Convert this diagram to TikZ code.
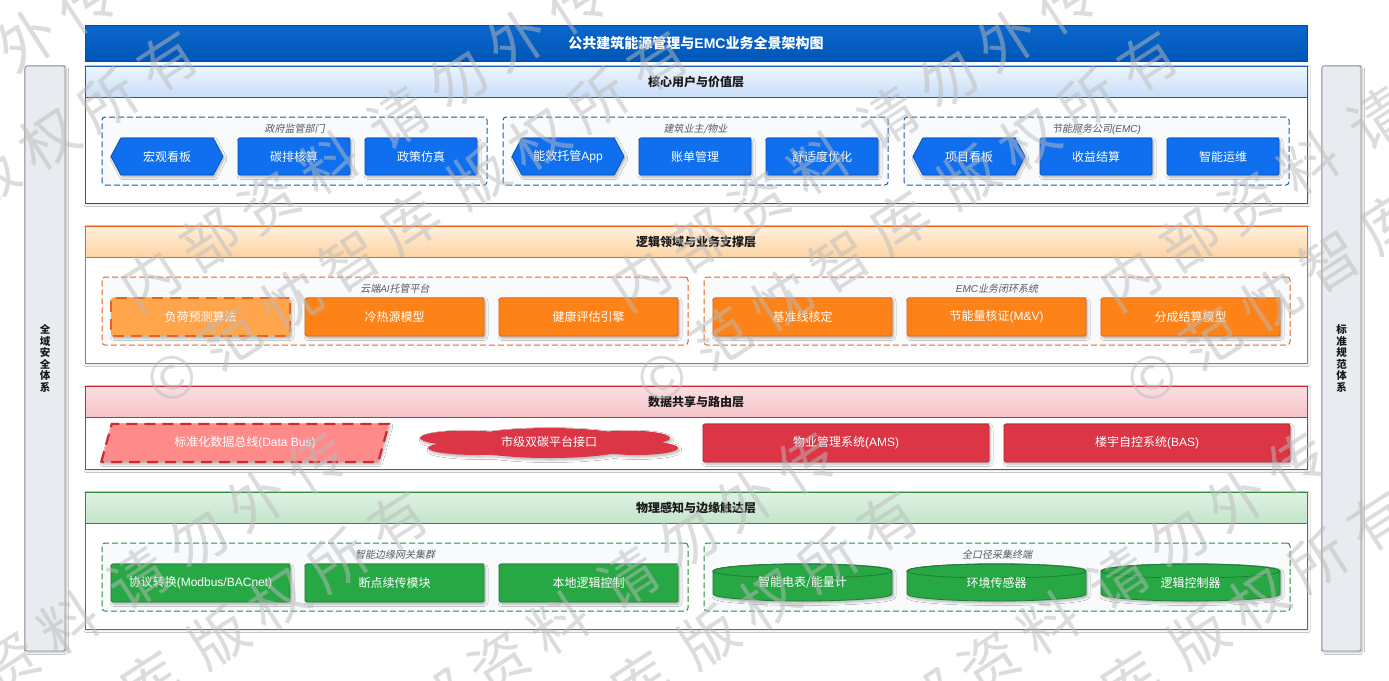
\documentclass[tikz,border=0pt]{standalone}
\usepackage{fontspec}
\setmainfont{Noto Sans CJK SC}
\newfontfamily\latf{Liberation Sans}
\newfontfamily\grpf{Noto Sans CJK SC}[FakeSlant=0.2]
\newfontfamily\wmf{Noto Sans CJK SC}
\usetikzlibrary{shapes.geometric,shapes.symbols,shadows.blur,calc}
\newcommand\lat[1]{{\latf #1}}
\newcommand\lati[1]{{\latf\itshape #1}}
\newcommand\itemfnt{\fontsize{12}{14}\selectfont}
\newcommand\hdrfnt{\fontsize{12}{14}\selectfont\bfseries}
\newcommand\titlefnt{\fontsize{14}{16}\selectfont\bfseries}
\newcommand\grpfnt{\grpf\fontsize{10}{12}\selectfont}
\newcommand\sidefnt{\fontsize{10.5}{11.6}\selectfont\bfseries}
\newcommand\wc[1]{\makebox[71pt]{#1}}
\definecolor{titleTop}{HTML}{0B66CC}
\definecolor{titleBot}{HTML}{0057B8}
\definecolor{titleLine}{HTML}{0A4A9E}
\definecolor{bHdrTop}{HTML}{EEF5FE}
\definecolor{bHdrBot}{HTML}{C9DEF8}
\definecolor{bLine}{HTML}{1A5CB4}
\definecolor{oHdrTop}{HTML}{FFF1DE}
\definecolor{oHdrBot}{HTML}{FDD3A3}
\definecolor{oLine}{HTML}{E8641C}
\definecolor{rHdrTop}{HTML}{FBDFE2}
\definecolor{rHdrBot}{HTML}{F5C3C8}
\definecolor{rLine}{HTML}{CC2A36}
\definecolor{gHdrTop}{HTML}{E0F2E4}
\definecolor{gHdrBot}{HTML}{C3E5CA}
\definecolor{gLine}{HTML}{2E8B40}
\definecolor{ibF}{HTML}{0F6FEF}
\definecolor{ibL}{HTML}{0A52BA}
\definecolor{ioF}{HTML}{FD8319}
\definecolor{ioL}{HTML}{E0620F}
\definecolor{ioLight}{HTML}{FFA54C}
\definecolor{irF}{HTML}{DC3545}
\definecolor{irL}{HTML}{B8232F}
\definecolor{irLight}{HTML}{FF8A8A}
\definecolor{igF}{HTML}{28A745}
\definecolor{igL}{HTML}{1E7E34}
\definecolor{grpFill}{HTML}{F8FAFC}
\definecolor{sideFill}{HTML}{E8EBEF}
\definecolor{sideLine}{HTML}{8C939C}
\definecolor{grpText}{HTML}{555A60}
\definecolor{hdrText}{HTML}{1A1A1A}
\definecolor{wmGray}{HTML}{BBBBBB}
\newcommand\cylshape[3]{%
  \path[cylfill] ({#1-89.5},571) -- ({#1-89.5},594)
     arc[start angle=180,end angle=360,x radius=89.5pt,y radius=7pt]
     -- ({#1+89.5},571)
     arc[start angle=0,end angle=180,x radius=89.5pt,y radius=7pt] -- cycle;
  \draw[cylline] (#1,571) ellipse[x radius=89.5pt,y radius=7pt];
  \node[itemtext] (#2) at (#1,583) {#3};
}
\begin{document}
\begin{tikzpicture}[x=1pt,y=-1pt,
  softshadow/.style={blur shadow={shadow blur steps=6,shadow xshift=1.5pt,shadow yshift=-2pt,shadow blur radius=2.5pt,shadow opacity=30}},
  itembase/.style={inner sep=0pt,outer sep=0pt,text=white,font=\itemfnt,softshadow,line width=0.8pt},
  itemtext/.style={inner sep=0pt,text=white,font=\itemfnt},
  bitem/.style={itembase,rectangle,rounded corners=1.5pt,draw=ibL,fill=ibF,minimum width=112pt,minimum height=37pt},
  bhex/.style={itembase,signal,signal to=west and east,signal pointer angle=124,draw=ibL,fill=ibF,minimum width=112pt,minimum height=37pt},
  oitem/.style={itembase,rectangle,rounded corners=1.5pt,draw=ioL,fill=ioF,minimum width=179pt,minimum height=38pt},
  oitemdash/.style={oitem,fill=ioLight,draw=oLine,line width=2.2pt,dash pattern=on 11pt off 7pt},
  ritem/.style={itembase,rectangle,rounded corners=1.5pt,draw=irL,fill=irF,minimum width=286pt,minimum height=38pt},
  gitem/.style={itembase,rectangle,rounded corners=1.5pt,draw=igL,fill=igF,minimum width=179pt,minimum height=38pt},
  cylfill/.style={fill=igF,draw=igL,line width=0.8pt,softshadow},
  cylline/.style={draw=igL,line width=0.8pt},
  cloudfill/.style={fill=irF,softshadow},
  layerbox/.style={draw=#1,fill=white,line width=1pt,inner sep=0pt,outer sep=0pt,minimum width=1222pt,
     blur shadow={shadow blur steps=5,shadow xshift=1pt,shadow yshift=-1.5pt,shadow blur radius=2pt,shadow opacity=15}},
  hdrbox/.style n args={3}{draw=#1,top color=#2,bottom color=#3,line width=1pt,inner sep=0pt,outer sep=0pt,
     minimum width=1222pt,minimum height=31pt,font=\hdrfnt,text=hdrText},
  grpbox/.style={draw=#1,fill=grpFill,dash pattern=on 6pt off 3pt,line width=1pt,rounded corners=3pt,
     inner sep=0pt,minimum height=68pt},
  grplab/.style={font=\grpfnt,text=grpText,inner sep=0pt},
  sidebox/.style={draw=sideLine,fill=sideFill,line width=0.9pt,rounded corners=2pt,minimum height=585pt,
     inner sep=0pt,align=center,font=\sidefnt,text=hdrText,
     blur shadow={shadow blur steps=5,shadow xshift=1.5pt,shadow yshift=-1.5pt,shadow blur radius=2pt,shadow opacity=25}},
  wmtext/.style={font=\wmf\fontsize{58}{94}\selectfont,align=center,text=wmGray,text opacity=0.5,inner sep=0pt}
]
\useasboundingbox[fill=white] (0,0) rectangle (1389,680);

% title
\node[draw=titleLine,top color=titleTop,bottom color=titleBot,line width=1pt,minimum width=1222pt,minimum height=36pt,
  inner sep=0pt,text=white,font=\titlefnt] (title) at (696,43) {公共建筑能源管理与\lat{EMC}业务全景架构图};

% side bars
\node[sidebox,minimum width=40pt] (secbar) at (45,358.5) {全\\域\\安\\全\\体\\系};
\node[sidebox,minimum width=39pt] (stdbar) at (1341.5,358.5) {标\\准\\规\\范\\体\\系};

% ===== layer 1
\node[layerbox=bLine,minimum height=137pt] (L1) at (696,134.5) {};
\node[hdrbox={bLine}{bHdrTop}{bHdrBot}] (L1h) at (696,81.5) {核心用户与价值层};
\node[grpbox=bLine,minimum width=385pt] (g11) at (294.5,151) {};
\node[grpbox=bLine,minimum width=385pt] (g12) at (695.5,151) {};
\node[grpbox=bLine,minimum width=385pt] (g13) at (1096.5,151) {};
\node[grplab] (g11l) at (294.5,129) {政府监管部门};
\node[grplab] (g12l) at (695.5,129) {建筑业主/物业};
\node[grplab] (g13l) at (1096.5,129) {节能服务公司\lati{(EMC)}};
\node[bhex]  (a1) at (167,156.5) {宏观看板};
\node[bitem] (a2) at (294,156.5) {碳排核算};
\node[bitem] (a3) at (421,156.5) {政策仿真};
\node[bhex]  (b1) at (568,156.5) {能效托管\lat{App}};
\node[bitem] (b2) at (695,156.5) {账单管理};
\node[bitem] (b3) at (822,156.5) {舒适度优化};
\node[bhex]  (c1) at (969,156.5) {项目看板};
\node[bitem] (c2) at (1096,156.5) {收益结算};
\node[bitem] (c3) at (1223,156.5) {智能运维};

% ===== layer 2
\node[layerbox=oLine,minimum height=137pt] (L2) at (696,294.5) {};
\node[hdrbox={oLine}{oHdrTop}{oHdrBot}] (L2h) at (696,241.5) {逻辑领域与业务支撑层};
\node[grpbox=oLine,minimum width=586pt] (g21) at (395,311) {};
\node[grpbox=oLine,minimum width=586pt] (g22) at (997,311) {};
\node[grplab] (g21l) at (395,289) {云端\lati{AI}托管平台};
\node[grplab] (g22l) at (997,289) {\lati{EMC}业务闭环系统};
\node[oitemdash] (d1) at (200.5,317) {负荷预测算法};
\node[oitem] (d2) at (394.5,317) {冷热源模型};
\node[oitem] (d3) at (588.5,317) {健康评估引擎};
\node[oitem] (e1) at (802.5,317) {基准线核定};
\node[oitem] (e2) at (996.5,317) {节能量核证\lat{(M\&V)}};
\node[oitem] (e3) at (1190.5,317) {分成结算模型};

% ===== layer 3
\node[layerbox=rLine,minimum height=83pt] (L3) at (696,427.5) {};
\node[hdrbox={rLine}{rHdrTop}{rHdrBot}] (L3h) at (696,401.5) {数据共享与路由层};
\node[itembase,trapezium,trapezium stretches=true,trapezium left angle=66,trapezium right angle=114,
  fill=irLight,draw=rLine,line width=2.2pt,dash pattern=on 11pt off 7pt,minimum width=288pt,minimum height=38pt] (f1) at (245,443) {标准化数据总线\lat{(Data Bus)}};
\path[cloudfill] (549,443) ellipse[x radius=92pt,y radius=15pt]
  (466,438) ellipse[x radius=46pt,y radius=7.5pt]
  (478,448) ellipse[x radius=50pt,y radius=7pt]
  (628,438) ellipse[x radius=42pt,y radius=7.5pt]
  (636,448) ellipse[x radius=42pt,y radius=7pt];
\node[itemtext] (f2) at (549,442) {市级双碳平台接口};
\node[ritem] (f3) at (846,443) {物业管理系统\lat{(AMS)}};
\node[ritem] (f4) at (1147,443) {楼宇自控系统\lat{(BAS)}};

% ===== layer 4
\node[layerbox=gLine,minimum height=137pt] (L4) at (696,560.5) {};
\node[hdrbox={gLine}{gHdrTop}{gHdrBot}] (L4h) at (696,507.5) {物理感知与边缘触达层};
\node[grpbox=gLine,minimum width=586pt] (g41) at (395,577) {};
\node[grpbox=gLine,minimum width=586pt] (g42) at (997,577) {};
\node[grplab] (g41l) at (395,555) {智能边缘网关集群};
\node[grplab] (g42l) at (997,555) {全口径采集终端};
\node[gitem] (h1) at (200.5,583) {协议转换\lat{(Modbus/BACnet)}};
\node[gitem] (h2) at (394.5,583) {断点续传模块};
\node[gitem] (h3) at (588.5,583) {本地逻辑控制};
\cylshape{802.5}{k1}{智能电表/能量计}
\cylshape{996.5}{k2}{环境传感器}
\cylshape{1190.5}{k3}{逻辑控制器}

% ===== watermark
\begin{scope}
\clip (0,0) rectangle (1389,680);
\foreach \i in {-2,...,3}{
  \foreach \j in {-1,0,1}{
    \node[wmtext,rotate=33] at ({389+490*\i-260*\j},{180+460*\j})
      {\wc{内}\wc{部}\wc{资}\wc{料}\hspace{12pt}\wc{请}\wc{勿}\wc{外}\wc{传}\\
       \wc{©}\wc{范}\wc{忱}\wc{智}\wc{库}\hspace{12pt}\wc{版}\wc{权}\wc{所}\wc{有}};
  }
}
\end{scope}
\end{tikzpicture}
\end{document}
